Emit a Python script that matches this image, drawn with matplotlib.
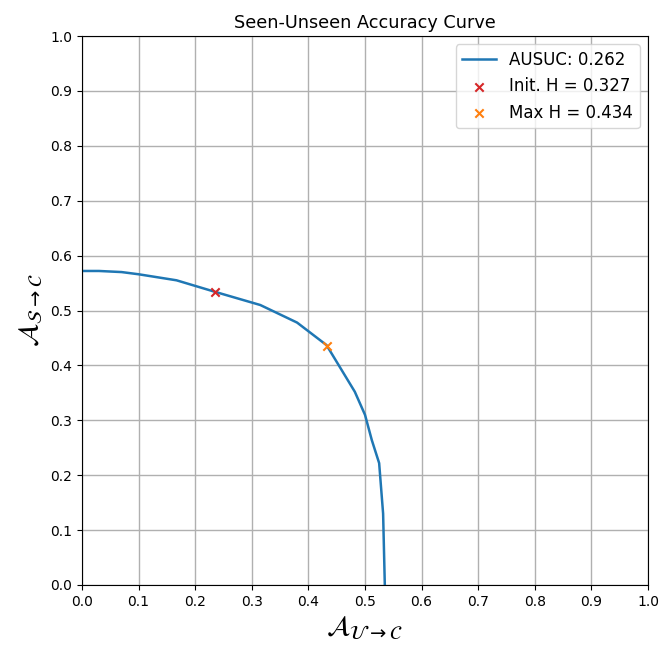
import numpy as np
import matplotlib
matplotlib.use("Agg")
from matplotlib import pyplot as plt

# значения
unseen_acc = [0.0, 0.03, 0.07, 0.10, 0.167, 0.235, 0.315, 0.38, 0.432,
              0.482, 0.50, 0.512, 0.525, 0.532, 0.535]
seen_acc = [0.572, 0.572, 0.570, 0.566, 0.555, 0.534, 0.510, 0.478, 0.437,
            0.352, 0.31, 0.264, 0.222, 0.13, 0.0]
ausuc = 0.262
init_point = (0.235, 0.533)
init_h = 0.327
max_point = (0.432, 0.436)
max_h = 0.434

fig = plt.figure(figsize=(6.6, 6.46), dpi=100)
ax = fig.add_axes([82 / 660, 61 / 646, 566 / 660, 549 / 646])

ax.plot(unseen_acc, seen_acc, color="tab:blue", linewidth=1.8,
        label="AUSUC: %.3f" % ausuc)
ax.scatter([init_point[0]], [init_point[1]], marker="x", color="tab:red",
           label="Init. H = %.3f" % init_h, zorder=3)
ax.scatter([max_point[0]], [max_point[1]], marker="x", color="tab:orange",
           label="Max H = %.3f" % max_h, zorder=3)

ax.set_xlim(0, 1)
ax.set_ylim(0, 1)
ticks = np.arange(0, 1.01, 0.1)
ax.set_xticks(ticks)
ax.set_yticks(ticks)
ax.grid(True, color="#b0b0b0", linewidth=1.0)
ax.set_title("Seen-Unseen Accuracy Curve", fontsize=12.7)
ax.set_xlabel(r"$\mathcal{A}_{\mathcal{U} \rightarrow \mathcal{C}}$", fontsize=20)
ax.set_ylabel(r"$\mathcal{A}_{\mathcal{S} \rightarrow \mathcal{C}}$", fontsize=20)
ax.legend(loc="upper right", fontsize=12)

fig.savefig("out.png")
